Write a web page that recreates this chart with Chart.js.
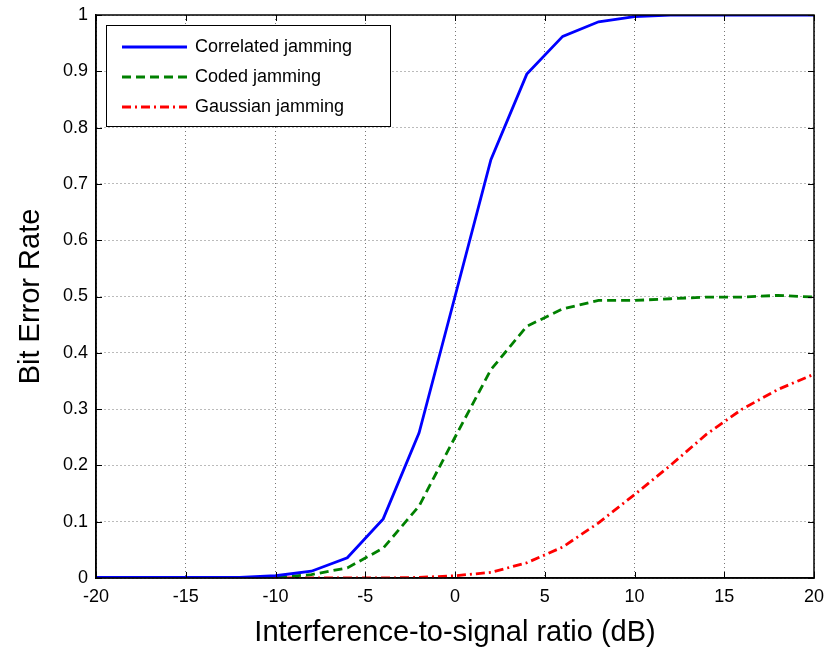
<!DOCTYPE html>
<html lang="en">
<head>
    <meta charset="UTF-8">
    <title>Bit Error Rate</title>
    <style>
        html, body { margin: 0; padding: 0; background: #fff; }
        #wrap { width: 828px; height: 658px; }
    </style>
</head>
<body>
    <div id="wrap"><canvas id="berChart" width="828" height="658"></canvas></div>

    <script src="https://cdn.jsdelivr.net/npm/chart.js@4"></script>
    <script>
        // interference-to-signal ratio (dB)
        let isr = [-20, -18, -16, -14, -12, -10, -8, -6, -4, -2, 0, 2, 4, 6, 8, 10, 12, 14, 16, 18, 20];
        let correlated = [0.001, 0.001, 0.001, 0.001, 0.001, 0.004, 0.012, 0.036, 0.105, 0.258, 0.5, 0.743, 0.895, 0.962, 0.988, 0.997, 1.0, 1.0, 1.0, 1.0, 1.0];
        let coded = [0.001, 0.001, 0.001, 0.001, 0.001, 0.001, 0.006, 0.018, 0.053, 0.128, 0.25, 0.37, 0.447, 0.478, 0.493, 0.493, 0.496, 0.499, 0.499, 0.502, 0.499];
        let gaussian = [0, 0, 0, 0, 0, 0, 0, 0, 0, 0.001, 0.004, 0.01, 0.027, 0.055, 0.098, 0.148, 0.2, 0.255, 0.3, 0.335, 0.362];
        let labels = ['Correlated jamming', 'Coded jamming', 'Gaussian jamming'];

        function pts(vals) {
            return vals.map((v, i) => ({x: isr[i], y: v}));
        }

        const FONT = 'Liberation Sans, Arial, sans-serif';

        // MATLAB-style frame: box, inward ticks and a boxed legend inside the axes
        const matlabFrame = {
            id: 'matlabFrame',
            afterDatasetsDraw(chart) {
                const {ctx, chartArea: a, scales} = chart;
                ctx.save();
                ctx.strokeStyle = '#000';
                ctx.lineWidth = 1;
                ctx.beginPath();
                scales.x.ticks.forEach(t => {
                    const px = Math.round(scales.x.getPixelForValue(t.value)) + 0.5;
                    ctx.moveTo(px, a.bottom); ctx.lineTo(px, a.bottom - 6);
                    ctx.moveTo(px, a.top); ctx.lineTo(px, a.top + 6);
                });
                scales.y.ticks.forEach(t => {
                    const py = Math.round(scales.y.getPixelForValue(t.value)) + 0.5;
                    ctx.moveTo(a.left, py); ctx.lineTo(a.left + 6, py);
                    ctx.moveTo(a.right, py); ctx.lineTo(a.right - 6, py);
                });
                ctx.stroke();
                ctx.lineWidth = 1.5;
                ctx.strokeRect(a.left, a.top, a.right - a.left, a.bottom - a.top);

                // legend
                const lx = a.left + 10, ly = a.top + 10, lw = 284, lh = 101;
                ctx.fillStyle = '#fff';
                ctx.fillRect(lx, ly, lw, lh);
                ctx.lineWidth = 1;
                ctx.strokeStyle = '#000';
                ctx.strokeRect(lx + 0.5, ly + 0.5, lw, lh);
                ctx.font = '18px ' + FONT;
                ctx.textBaseline = 'middle';
                chart.data.datasets.forEach((ds, i) => {
                    const y = ly + 22 + i * 30;
                    ctx.strokeStyle = ds.borderColor;
                    ctx.lineWidth = ds.borderWidth;
                    ctx.setLineDash(ds.borderDash || []);
                    ctx.beginPath();
                    ctx.moveTo(lx + 16, y); ctx.lineTo(lx + 81, y);
                    ctx.stroke();
                    ctx.setLineDash([]);
                    ctx.fillStyle = '#000';
                    ctx.fillText(ds.label, lx + 89, y);
                });
                ctx.restore();
            }
        };

        var ctx = document.getElementById('berChart').getContext('2d');
        var berChart = new Chart(ctx, {
            type: 'line',
            data: {
                datasets: [
                    {label: labels[0], data: pts(correlated), borderColor: '#0000ff', borderWidth: 2.8, pointRadius: 0, tension: 0, fill: false},
                    {label: labels[1], data: pts(coded), borderColor: '#008000', borderWidth: 2.8, borderDash: [9, 5], pointRadius: 0, tension: 0, fill: false},
                    {label: labels[2], data: pts(gaussian), borderColor: '#ff0000', borderWidth: 2.8, borderDash: [9, 4, 2, 4], pointRadius: 0, tension: 0, fill: false}
                ]
            },
            options: {
                responsive: false,
                animation: false,
                layout: {padding: {top: 15, right: 14, left: 0, bottom: 0}},
                plugins: {legend: {display: false}, tooltip: {enabled: false}},
                scales: {
                    x: {
                        type: 'linear', min: -20, max: 20,
                        ticks: {stepSize: 5, color: '#000', font: {size: 18, family: FONT}, padding: 8},
                        grid: {color: '#777', borderDash: [1, 3], drawTicks: false, lineWidth: 1},
                        border: {display: true, color: '#000', width: 1.5, dash: [1, 3]},
                        title: {display: true, text: 'Interference-to-signal ratio (dB)', color: '#000', font: {size: 29, family: FONT}, padding: {top: 4, bottom: 8}},
                        afterFit(scale) { scale.height = 80; scale.paddingRight = 0; scale.paddingLeft = 0; }
                    },
                    y: {
                        min: 0, max: 1,
                        ticks: {stepSize: 0.1, color: '#000', font: {size: 18, family: FONT}, padding: 8,
                            callback: v => String(Math.round(v * 10) / 10)},
                        grid: {color: '#777', borderDash: [1, 3], drawTicks: false, lineWidth: 1},
                        border: {display: true, color: '#000', width: 1.5, dash: [1, 3]},
                        title: {display: true, text: 'Bit Error Rate', color: '#000', font: {size: 29, family: FONT}, padding: {top: 14, bottom: 8}},
                        afterFit(scale) { scale.width = 96; scale.paddingTop = 0; scale.paddingBottom = 0; }
                    }
                }
            },
            plugins: [matlabFrame]
        });
    </script>
</body>
</html>
